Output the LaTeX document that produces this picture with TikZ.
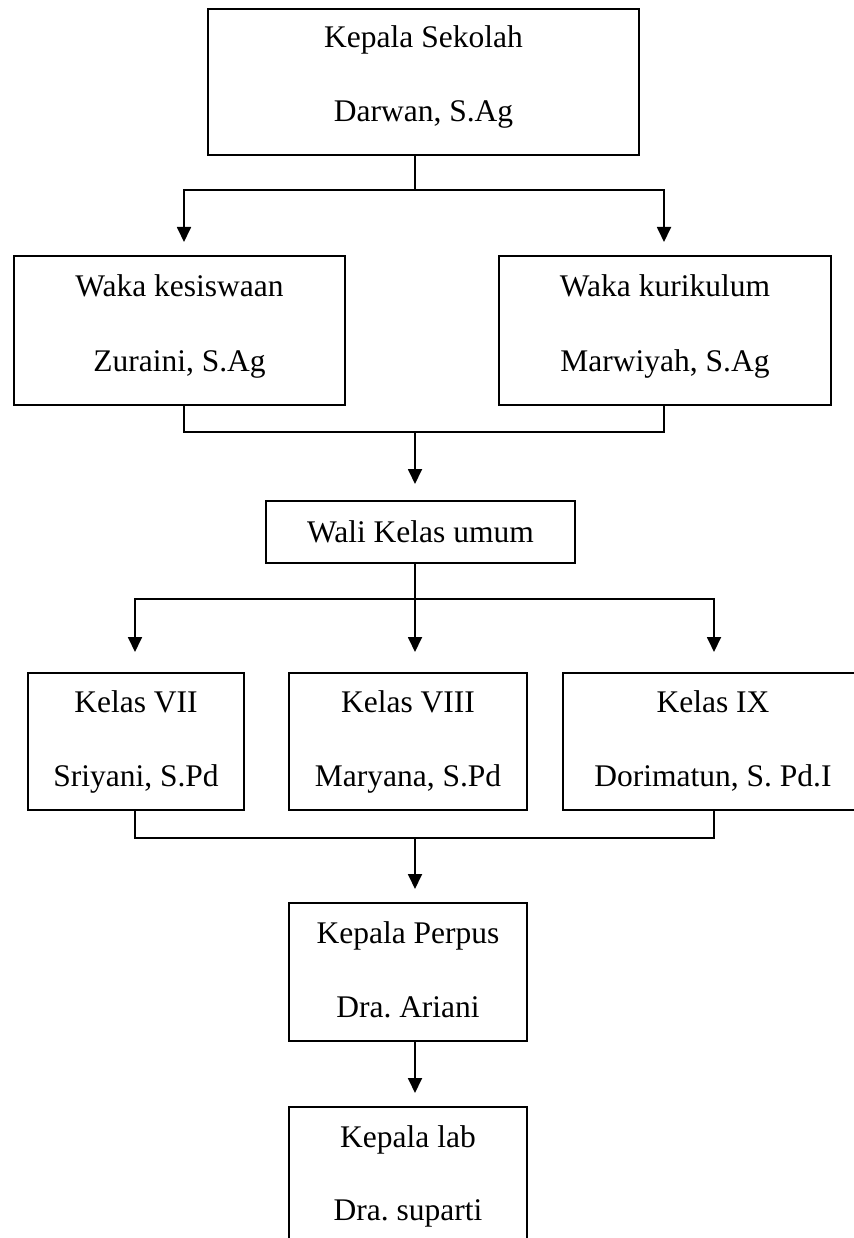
\documentclass[tikz,border=0pt]{standalone}
\usepackage{fontspec}
\setmainfont{Liberation Serif}
\usetikzlibrary{arrows.meta}
\frenchspacing

\tikzset{every picture/.style={line width=1.8pt}}
\tikzset{
  box/.style={draw, inner sep=0pt, outer sep=0pt},
  lbl/.style={anchor=base, inner sep=0pt, font=\fontsize{31.5}{36}\selectfont},
  arr/.style={-{Triangle[length=15pt,width=14pt]}}
}

\begin{document}
\begin{tikzpicture}[x=1pt,y=1pt,yscale=-1,xscale=1]
	\useasboundingbox (0,0) rectangle (853,1238);

	% boxes
	\node [box, minimum width=431pt, minimum height=146pt] (ks) at (423.5,82) {};
	\node [box, minimum width=331pt, minimum height=149pt] (wks) at (179.5,330.5) {};
	\node [box, minimum width=332pt, minimum height=149pt] (wkr) at (665,330.5) {};
	\node [box, minimum width=309pt, minimum height=62pt] (wali) at (420.5,532) {};
	\node [box, minimum width=216pt, minimum height=137pt] (k7) at (136,741.5) {};
	\node [box, minimum width=238pt, minimum height=137pt] (k8) at (408,741.5) {};
	\node [box, minimum width=300pt, minimum height=137pt] (k9) at (713,741.5) {};
	\node [box, minimum width=238pt, minimum height=138pt] (perpus) at (408,972) {};
	\node [box, minimum width=238pt, minimum height=138pt] (lab) at (408,1176) {};

	% texts
	\node [lbl] (ks-a) at (423.5,48) {Kepala Sekolah};
	\node [lbl] (ks-b) at (423.5,122) {Darwan, S.Ag};
	\node [lbl] (wks-a) at (179.5,296) {Waka kesiswaan};
	\node [lbl] (wks-b) at (179.5,371) {Zuraini, S.Ag};
	\node [lbl] (wkr-a) at (665,296) {Waka kurikulum};
	\node [lbl] (wkr-b) at (665,371) {Marwiyah, S.Ag};
	\node [lbl] (wali-a) at (420.5,542) {Wali Kelas umum};
	\node [lbl] (k7-a) at (136,712) {Kelas VII};
	\node [lbl] (k7-b) at (136,786) {Sriyani, S.Pd};
	\node [lbl] (k8-a) at (408,712) {Kelas VIII};
	\node [lbl] (k8-b) at (408,786) {Maryana, S.Pd};
	\node [lbl] (k9-a) at (713,712) {Kelas IX};
	\node [lbl] (k9-b) at (713,786) {Dorimatun, S. Pd.I};
	\node [lbl] (perpus-a) at (408,943) {Kepala Perpus};
	\node [lbl] (perpus-b) at (408,1017) {Dra. Ariani};
	\node [lbl] (lab-a) at (408,1147) {Kepala lab};
	\node [lbl] (lab-b) at (408,1220) {Dra. suparti};

	% joints and arrow ends
	\coordinate (j1) at (415,190);
	\coordinate (t1) at (184,242);
	\coordinate (t2) at (664,242);
	\coordinate (j2) at (415,432);
	\coordinate (t3) at (415,484);
	\coordinate (j3) at (415,599);
	\coordinate (t4) at (135,652);
	\coordinate (t5) at (415,652);
	\coordinate (t6) at (714,652);
	\coordinate (j4) at (415,838);
	\coordinate (t7) at (415,889);
	\coordinate (t8) at (415,1093);

	% connectors
	\draw (ks.south -| j1) -- (j1);
	\draw [arr] (j1) -| (t1);
	\draw [arr] (j1) -| (t2);
	\draw (wks.south -| t1) |- (j2) -| (wkr.south -| t2);
	\draw [arr] (j2) -- (t3);
	\draw (wali.south -| j3) -- (j3);
	\draw [arr] (j3) -| (t4);
	\draw [arr] (j3) -- (t5);
	\draw [arr] (j3) -| (t6);
	\draw (k7.south -| t4) |- (j4) -| (k9.south -| t6);
	\draw [arr] (j4) -- (t7);
	\draw [arr] (perpus.south -| t8) -- (t8);
\end{tikzpicture}
\end{document}
